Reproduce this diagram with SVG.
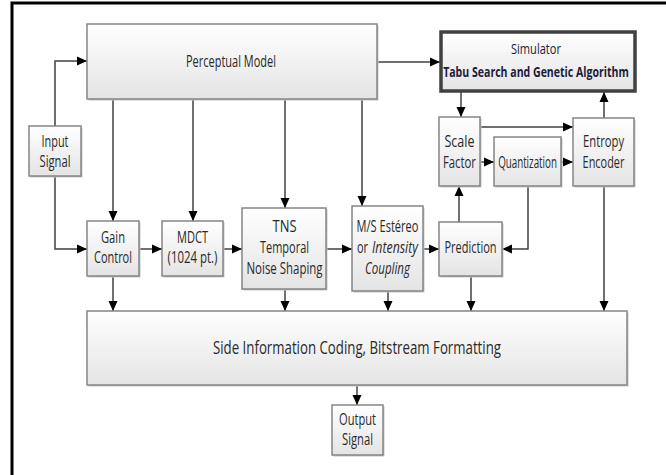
<svg xmlns="http://www.w3.org/2000/svg" width="666" height="475" viewBox="0 0 666 475">
  <style>
    .box { fill: url(#boxFill); stroke: #858585; stroke-width: 1.5; }
    .shadow { fill: #c8c8c8; }
    .sim { fill: url(#boxFill); stroke: #404040; stroke-width: 3.5; }
    .lbl { font-family: "Open Sans", "Liberation Sans", sans-serif; font-size: 15.5px; fill: #2a2a2a; text-anchor: middle; }
    .start { text-anchor: start; }
    .big { font-size: 17.5px; }
    .it { font-style: italic; }
    .sim-t { font-family: "Open Sans", "Liberation Sans", sans-serif; font-size: 15px; fill: #1b1b3a; text-anchor: middle; }
    .conn path { fill: none; stroke: #404040; stroke-width: 1.5; marker-end: url(#arrow); }
  </style>
  <defs>
    <linearGradient id="boxFill" x1="0" y1="0" x2="0" y2="1">
      <stop offset="0" stop-color="#ffffff"/>
      <stop offset="1" stop-color="#e4e4e4"/>
    </linearGradient>
    <marker id="arrow" markerUnits="userSpaceOnUse" markerWidth="10" markerHeight="10" viewBox="0 0 10 10" refX="10" refY="5" orient="auto">
      <path d="M0,0.5 L10,5 L0,9.5 z" fill="#000000"/>
    </marker>
  </defs>

  <rect width="666" height="475" fill="#ffffff"/>
  <!-- outer frame -->
  <path d="M12,475 V3 H666" fill="none" stroke="#000000" stroke-width="3"/>

  <!-- connectors -->
  <g id="connectors" class="conn">
    <path d="M55,126 V61 H87"/>
    <path d="M55,176 V249 H87"/>
    <path d="M113,99 V221"/>
    <path d="M193,99 V221"/>
    <path d="M285,99 V208"/>
    <path d="M362,99 V206"/>
    <path d="M377,62 H440"/>
    <path d="M139,249 H162"/>
    <path d="M223,249 H242"/>
    <path d="M327,249 H352"/>
    <path d="M423,249 H439"/>
    <path d="M528,186 V249 H502"/>
    <path d="M459,222 V186"/>
    <path d="M461,92 V117"/>
    <path d="M480,127 H573"/>
    <path d="M480,162 H494"/>
    <path d="M561,162 H573"/>
    <path d="M604,118 V92"/>
    <path d="M604,186 V311"/>
    <path d="M113,276 V311"/>
    <path d="M285,289 V311"/>
    <path d="M388,291 V311"/>
    <path d="M471,276 V311"/>
    <path d="M357,385 V405"/>
  </g>

  <g id="perceptual-model">
    <rect class="shadow" x="88.5" y="25.5" width="290" height="75"/>
    <rect class="box" x="87" y="24" width="290" height="75"/>
    <text class="lbl" x="231" y="67" textLength="90" lengthAdjust="spacingAndGlyphs">Perceptual Model</text>
  </g>

  <g id="simulator">
    <rect class="sim" x="441" y="32" width="194" height="59"/>
    <text class="sim-t" x="536" y="54" textLength="50" lengthAdjust="spacingAndGlyphs">Simulator</text>
    <!-- condensed bold line: narrowed with a horizontal scale -->
    <text class="sim-t" transform="translate(536,77) scale(0.74,1)" x="0" y="0" font-size="14" font-weight="bold" textLength="251" lengthAdjust="spacingAndGlyphs">Tabu Search and Genetic Algorithm</text>
  </g>

  <g id="input-signal">
    <rect class="shadow" x="30.5" y="127.5" width="52" height="50"/>
    <rect class="box" x="29" y="126" width="52" height="50"/>
    <text class="lbl" x="55" y="147" textLength="27" lengthAdjust="spacingAndGlyphs">Input</text>
    <text class="lbl" x="55" y="167" textLength="31" lengthAdjust="spacingAndGlyphs">Signal</text>
  </g>

  <g id="gain-control">
    <rect class="shadow" x="88.5" y="222.5" width="52" height="55"/>
    <rect class="box" x="87" y="221" width="52" height="55"/>
    <text class="lbl" x="113" y="243" textLength="24" lengthAdjust="spacingAndGlyphs">Gain</text>
    <text class="lbl" x="113" y="263" textLength="38" lengthAdjust="spacingAndGlyphs">Control</text>
  </g>

  <g id="mdct">
    <rect class="shadow" x="163.5" y="222.5" width="61" height="55"/>
    <rect class="box" x="162" y="221" width="61" height="55"/>
    <text class="lbl" x="192.5" y="243" textLength="31" lengthAdjust="spacingAndGlyphs">MDCT</text>
    <text class="lbl" x="192.5" y="263" textLength="50" lengthAdjust="spacingAndGlyphs">(1024 pt.)</text>
  </g>

  <g id="tns">
    <rect class="shadow" x="243.5" y="209.5" width="84" height="81"/>
    <rect class="box" x="242" y="208" width="84" height="81"/>
    <text class="lbl" x="284.5" y="232" textLength="24" lengthAdjust="spacingAndGlyphs">TNS</text>
    <text class="lbl" x="284.5" y="253" textLength="49" lengthAdjust="spacingAndGlyphs">Temporal</text>
    <text class="lbl" x="284.5" y="274" textLength="76" lengthAdjust="spacingAndGlyphs">Noise Shaping</text>
  </g>

  <g id="ms-stereo">
    <rect class="shadow" x="353.5" y="207.5" width="71" height="85"/>
    <rect class="box" x="352" y="206" width="71" height="85"/>
    <text class="lbl" x="387.5" y="232" textLength="62" lengthAdjust="spacingAndGlyphs">M/S Estéreo</text>
    <text class="lbl start" x="357" y="253" textLength="11" lengthAdjust="spacingAndGlyphs">or</text>
    <text class="lbl start it" x="372" y="253" textLength="46" lengthAdjust="spacingAndGlyphs">Intensity</text>
    <text class="lbl it" x="387.5" y="274" textLength="45" lengthAdjust="spacingAndGlyphs">Coupling</text>
  </g>

  <g id="prediction">
    <rect class="shadow" x="440.5" y="223.5" width="63" height="54"/>
    <rect class="box" x="439" y="222" width="63" height="54"/>
    <text class="lbl" x="470.5" y="253" textLength="52" lengthAdjust="spacingAndGlyphs">Prediction</text>
  </g>

  <g id="scale-factor">
    <rect class="shadow" x="440.5" y="118.5" width="41" height="69"/>
    <rect class="box" x="439" y="117" width="41" height="69"/>
    <text class="lbl" x="459.5" y="147" textLength="30" lengthAdjust="spacingAndGlyphs">Scale</text>
    <text class="lbl" x="459.5" y="168" textLength="33" lengthAdjust="spacingAndGlyphs">Factor</text>
  </g>

  <g id="quantization">
    <rect class="shadow" x="495.5" y="138.5" width="67" height="49"/>
    <rect class="box" x="494" y="137" width="67" height="49"/>
    <text class="lbl" transform="translate(527.5,168) scale(0.66,1)" x="0" y="0" textLength="89" lengthAdjust="spacingAndGlyphs">Quantization</text>
  </g>

  <g id="entropy-encoder">
    <rect class="shadow" x="574.5" y="119.5" width="61" height="68"/>
    <rect class="box" x="573" y="118" width="61" height="68"/>
    <text class="lbl" transform="translate(603.5,147) scale(0.72,1)" x="0" y="0" textLength="57" lengthAdjust="spacingAndGlyphs">Entropy</text>
    <text class="lbl" transform="translate(603.5,168) scale(0.72,1)" x="0" y="0" textLength="58" lengthAdjust="spacingAndGlyphs">Encoder</text>
  </g>

  <g id="side-information">
    <rect class="shadow" x="88.5" y="312.5" width="540" height="74"/>
    <rect class="box" x="87" y="311" width="540" height="74"/>
    <text class="lbl big" x="357" y="354" textLength="288" lengthAdjust="spacingAndGlyphs">Side Information Coding, Bitstream Formatting</text>
  </g>

  <g id="output-signal">
    <rect class="shadow" x="333.5" y="406.5" width="51" height="50"/>
    <rect class="box" x="332" y="405" width="51" height="50"/>
    <text class="lbl" x="357.5" y="425" textLength="37" lengthAdjust="spacingAndGlyphs">Output</text>
    <text class="lbl" x="357.5" y="445" textLength="31" lengthAdjust="spacingAndGlyphs">Signal</text>
  </g>
</svg>
